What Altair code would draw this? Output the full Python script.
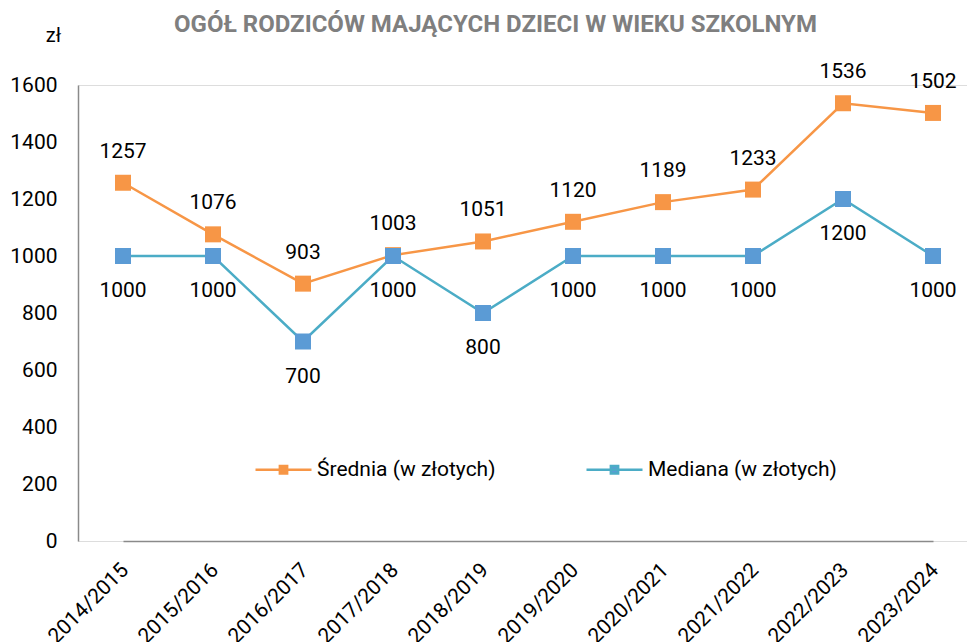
import altair as alt
import pandas as pd

years = ["2014/2015", "2015/2016", "2016/2017", "2017/2018", "2018/2019",
         "2019/2020", "2020/2021", "2021/2022", "2022/2023", "2023/2024"]
srednia = [1257, 1076, 903, 1003, 1051, 1120, 1189, 1233, 1536, 1502]
mediana = [1000, 1000, 700, 1000, 800, 1000, 1000, 1000, 1200, 1000]
series = ["Średnia (w złotych)", "Mediana (w złotych)"]
y_ticks = [0, 200, 400, 600, 800, 1000, 1200, 1400, 1600]

ORANGE = "#F79646"
TEAL = "#4BACC6"
BLUE = "#5B9BD5"

rows = []
for y, s, m in zip(years, srednia, mediana):
    rows.append({"rok": y, "seria": series[0], "wartosc": s})
    rows.append({"rok": y, "seria": series[1], "wartosc": m})
df = pd.DataFrame(rows)

FONT = "Roboto"

legend_kw = dict(
    orient="none", legendX=176, legendY=355, direction="horizontal", title=None,
    symbolType="M-1,0H1M-0.13,-0.13H0.13V0.13H-0.13Z", symbolSize=3136,
    symbolStrokeWidth=2.5, labelFontSize=21, labelFont=FONT, labelColor="#000000",
    labelOffset=4, columnPadding=85, labelLimit=400,
)

x_enc = alt.X("rok:N", sort=years, scale=alt.Scale(type="point", range=[45, 855], padding=0),
              axis=alt.Axis(title=None, labelAngle=-45, labelFontSize=21, labelFont=FONT,
                            labelColor="#000000", ticks=False, labelPadding=18, labelOffset=-6,
                            domainColor="#8a8a8a", domainWidth=1.5))
y_enc = alt.Y("wartosc:Q", scale=alt.Scale(domain=[0, 1600], nice=False, zero=True),
              axis=alt.Axis(values=y_ticks, format="d", title="zł", titleAngle=0,
                            titleX=-25, titleY=-50,
                            titleAlign="center", titleBaseline="middle", titleFontSize=20,
                            titleFont=FONT, titleFontWeight="normal", titleColor="#000000",
                            labelFontSize=21, labelFont=FONT, labelColor="#000000",
                            ticks=False, labelPadding=21, grid=False,
                            domainColor="#8a8a8a", domainWidth=1.5))

base = alt.Chart(df).encode(x=x_enc, y=y_enc)

lines = base.mark_line(strokeWidth=2.5).encode(
    stroke=alt.Stroke("seria:N", sort=series,
                      scale=alt.Scale(domain=series, range=[ORANGE, TEAL]),
                      legend=alt.Legend(**legend_kw)),
    detail="seria:N",
)
points = base.mark_point(shape="square", filled=True, size=256, opacity=1).encode(
    fill=alt.Fill("seria:N", sort=series,
                  scale=alt.Scale(domain=series, range=[ORANGE, BLUE]),
                  legend=alt.Legend(**legend_kw)),
)
lab_top = base.transform_filter(alt.datum.seria == series[0]).mark_text(
    dy=-31, fontSize=21, font=FONT, color="#000000", baseline="middle"
).encode(text="wartosc:Q")
lab_bot = base.transform_filter(alt.datum.seria == series[1]).mark_text(
    dy=35, fontSize=21, font=FONT, color="#000000", baseline="middle"
).encode(text="wartosc:Q")

chart = alt.layer(lines, points, lab_top, lab_bot).properties(
    width=889, height=456,
    autosize=alt.AutoSizeParams(type="none"),
    padding={"left": 70, "top": 77, "right": 0, "bottom": 107},
    title=alt.TitleParams("OGÓŁ RODZICÓW MAJĄCYCH DZIECI W WIEKU SZKOLNYM",
                          fontSize=24, font=FONT, fontWeight="bold", color="#7f7f7f",
                          anchor="middle", dx=-27, offset=-12),
).configure_view(stroke=None).configure(background="white")

chart.save("out.html", embed_options={"renderer": "svg", "actions": False})
